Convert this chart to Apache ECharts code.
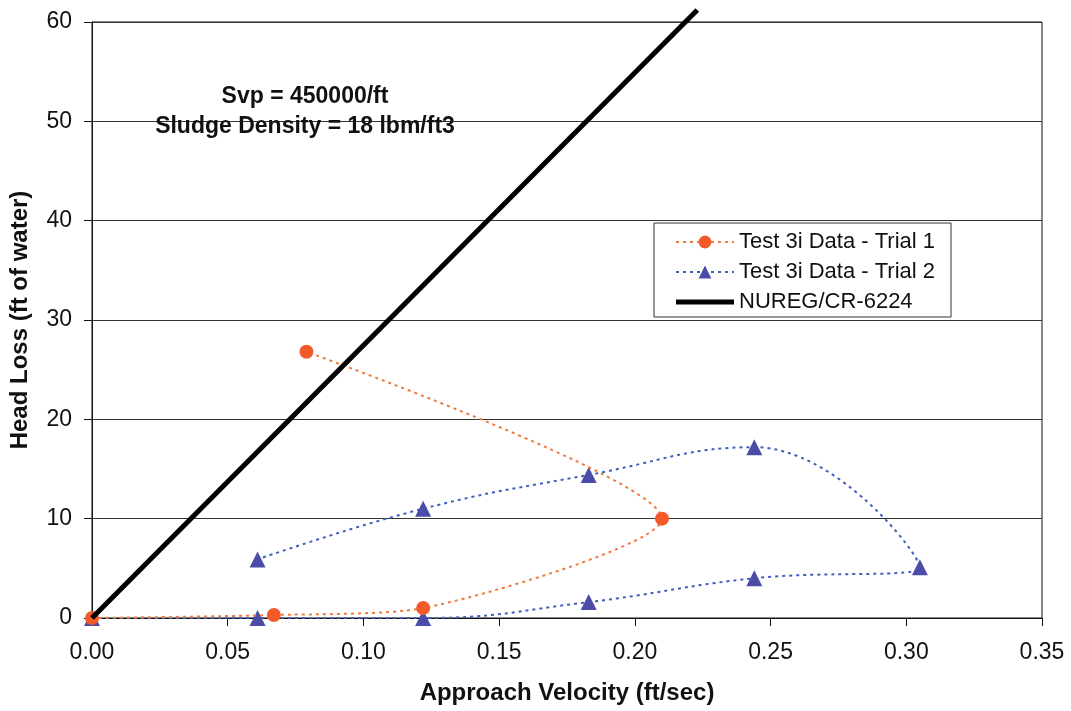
<!DOCTYPE html>
<html>
<head>
<meta charset="utf-8">
<script src="https://cdn.jsdelivr.net/npm/echarts@6/dist/echarts.min.js"></script>
<style>
html,body{margin:0;padding:0;background:#fff;}
#chart{width:1071px;height:711px;}
</style>
</head>
<body>
<div id="chart"></div>
<script>
// ---- data ----
const trial1X = [0, 0.067, 0.122, 0.210, 0.079];
const trial1Y = [0, 0.3, 1.0, 10.0, 26.8];
const trial2X = [0, 0.061, 0.122, 0.183, 0.244, 0.305, 0.244, 0.183, 0.122, 0.061];
const trial2Y = [0, 0, 0, 1.6, 4.0, 5.1, 17.2, 14.4, 11.0, 5.9];
const nuregX = [0, 0.223];
const nuregY = [0, 61.2];
const seriesNames = ['Test 3i Data - Trial 1', 'Test 3i Data - Trial 2', 'NUREG/CR-6224'];
const xTitle = 'Approach Velocity (ft/sec)';
const yTitle = 'Head Loss (ft of water)';
const noteLines = ['Svp = 450000/ft', 'Sludge Density = 18 lbm/ft3'];

const zip = (xs, ys) => xs.map((x, i) => [x, ys[i]]);

const chart = echarts.init(document.getElementById('chart'), null, {renderer: 'canvas'});
const FONT = 'Arial, "Liberation Sans", sans-serif';

chart.setOption({
  animation: false,
  backgroundColor: '#ffffff',
  grid: {left: 92, right: 29, top: 22, bottom: 93, show: true, borderColor: '#111', borderWidth: 1, backgroundColor: 'transparent'},
  xAxis: {
    type: 'value', min: 0, max: 0.35, interval: 0.05,
    axisLine: {show: true, lineStyle: {color: '#111', width: 1}},
    axisTick: {show: true, inside: false, length: 8, lineStyle: {color: '#111'}},
    axisLabel: {color: '#111', fontSize: 23, fontFamily: FONT, margin: 23, formatter: v => v.toFixed(2)},
    splitLine: {show: false},
    name: xTitle, nameLocation: 'middle', nameGap: 63,
    nameTextStyle: {color: '#111', fontSize: 24, fontWeight: 'bold', fontFamily: FONT}
  },
  yAxis: {
    type: 'value', min: 0, max: 60, interval: 10,
    axisLine: {show: true, lineStyle: {color: '#111', width: 1}},
    axisTick: {show: true, inside: false, length: 8, lineStyle: {color: '#111'}},
    axisLabel: {color: '#111', fontSize: 23, fontFamily: FONT, margin: 20},
    splitLine: {show: true, lineStyle: {color: '#333', width: 1}},
    name: yTitle, nameLocation: 'middle', nameGap: 60, nameRotate: 90,
    nameTextStyle: {color: '#111', fontSize: 24, fontWeight: 'bold', fontFamily: FONT}
  },
  legend: {
    orient: 'vertical', left: 654, top: 223,
    backgroundColor: '#fff', borderColor: '#333', borderWidth: 1,
    padding: [8, 16, 4, 21], itemGap: 8, itemWidth: 58, itemHeight: 16,
    textStyle: {color: '#111', fontSize: 22, fontFamily: FONT},
    data: [
      {name: seriesNames[0]},
      {name: seriesNames[1]},
      {name: seriesNames[2], icon: 'path://M0,0 L58,0 L58,5 L0,5 Z'}
    ]
  },
  graphic: [
    {type: 'text', x: 305, y: 97, z: 100,
     style: {text: noteLines[0], font: 'bold 23px ' + FONT, fill: '#111', align: 'center', verticalAlign: 'middle'}},
    {type: 'text', x: 305, y: 127, z: 100,
     style: {text: noteLines[1], font: 'bold 23px ' + FONT, fill: '#111', align: 'center', verticalAlign: 'middle'}}
  ],
  series: [
    {
      name: seriesNames[0], type: 'line', data: zip(trial1X, trial1Y),
      smooth: 0.25, symbol: 'circle', symbolSize: 14, z: 3,
      itemStyle: {color: '#f25a2a'},
      lineStyle: {color: '#f07a3a', width: 2, type: [3, 4]}
    },
    {
      name: seriesNames[1], type: 'line', data: zip(trial2X, trial2Y),
      smooth: 0.45, symbol: 'triangle', symbolSize: 16, z: 2,
      itemStyle: {color: '#4b4ca8'},
      lineStyle: {color: '#3f5fc0', width: 2, type: [3, 4]}
    },
    {
      name: seriesNames[2], type: 'line', data: zip(nuregX, nuregY),
      symbol: 'none', clip: false, z: 4,
      itemStyle: {color: '#000'},
      lineStyle: {color: '#000', width: 5}
    }
  ]
});
</script>
</body>
</html>
